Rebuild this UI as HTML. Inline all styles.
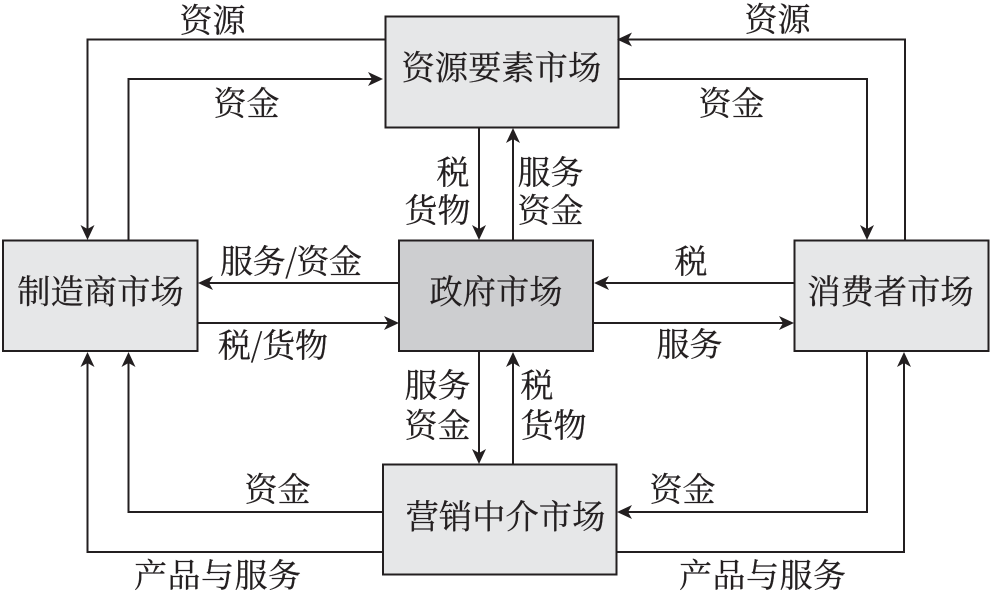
<!DOCTYPE html>
<html><head><meta charset="utf-8"><style>
html,body{margin:0;padding:0;background:#fff}
svg{display:block}
text{font-family:"Noto Serif CJK SC","Liberation Serif",serif;fill:#231f20;font-size:33px;stroke:#231f20;stroke-width:.25}
.b{font-size:33.3px}
.l{fill:none;stroke:#231f20;stroke-width:2}
.h{fill:#231f20}
.x{stroke:#231f20;stroke-width:2}
</style></head><body>
<svg width="990" height="592" viewBox="0 0 990 592" xmlns="http://www.w3.org/2000/svg">
<defs>
<path id="a" class="h" d="M0 0L-15-7L-11 0L-15 7Z"/>
</defs>
<!-- boxes -->
<rect class="x" x="385.5" y="16.5" width="233" height="111" fill="#e6e7e8"/>
<rect class="x" x="3" y="240.5" width="194.500" height="110.500" fill="#e6e7e8"/>
<rect class="x" x="399" y="240.500" width="194" height="110.500" fill="#cdced0"/>
<rect class="x" x="794.500" y="240.500" width="194" height="110.500" fill="#e6e7e8"/>
<rect class="x" x="383" y="464.500" width="233.500" height="110" fill="#e6e7e8"/>
<!-- lines -->
<path class="l" d="M385 39.500H87.500V236"/>
<path class="l" d="M128.500 240V79H375"/>
<path class="l" d="M905 240V39.500H625"/>
<path class="l" d="M619 79H867V236"/>
<path class="l" d="M479 127V236"/>
<path class="l" d="M513 240V132"/>
<path class="l" d="M399 283H205"/>
<path class="l" d="M197 323H391"/>
<path class="l" d="M794 283H601"/>
<path class="l" d="M593 323H786"/>
<path class="l" d="M479 351V460"/>
<path class="l" d="M513 464V356"/>
<path class="l" d="M383 512H128.500V356"/>
<path class="l" d="M383 552H87.500V356"/>
<path class="l" d="M867 351V512H625"/>
<path class="l" d="M616 552H904V356"/>
<!-- arrowheads -->
<use href="#a" transform="translate(87.500 240) rotate(90)"/>
<use href="#a" transform="translate(383 79)"/>
<use href="#a" transform="translate(617 39.500) rotate(180)"/>
<use href="#a" transform="translate(867 240) rotate(90)"/>
<use href="#a" transform="translate(479 240) rotate(90)"/>
<use href="#a" transform="translate(513 128) rotate(-90)"/>
<use href="#a" transform="translate(198 283) rotate(180)"/>
<use href="#a" transform="translate(399 323)"/>
<use href="#a" transform="translate(594 283) rotate(180)"/>
<use href="#a" transform="translate(794 323)"/>
<use href="#a" transform="translate(479 464) rotate(90)"/>
<use href="#a" transform="translate(513 352) rotate(-90)"/>
<use href="#a" transform="translate(128.500 352) rotate(-90)"/>
<use href="#a" transform="translate(87.500 352) rotate(-90)"/>
<use href="#a" transform="translate(617 512) rotate(180)"/>
<use href="#a" transform="translate(904 352) rotate(-90)"/>
<!-- box labels -->
<text class="b" x="401.500" y="79.500">资源要素市场</text>
<text class="b" x="17.200" y="303.500">制造商市场</text>
<text class="b" x="429.400" y="303.500">政府市场</text>
<text class="b" x="807.200" y="303.500">消费者市场</text>
<text class="b" x="405.600" y="528.500">营销中介市场</text>
<!-- labels -->
<text x="179.500" y="32">资源</text>
<text x="744.500" y="31">资源</text>
<text x="213.500" y="115">资金</text>
<text x="698.500" y="115">资金</text>
<text x="436.500" y="184">税</text>
<text x="404.500" y="222">货物</text>
<text x="517.500" y="184">服务</text>
<text x="517.500" y="222">资金</text>
<text x="220" y="273" textLength="142" lengthAdjust="spacing">服务/资金</text>
<text x="218" y="357" textLength="110" lengthAdjust="spacing">税/货物</text>
<text x="674.500" y="273">税</text>
<text x="656.500" y="356">服务</text>
<text x="404.500" y="397">服务</text>
<text x="404.500" y="437">资金</text>
<text x="520.500" y="397">税</text>
<text x="520.500" y="437">货物</text>
<text x="244.500" y="501">资金</text>
<text x="649.500" y="501">资金</text>
<text x="134" y="587" textLength="167" lengthAdjust="spacing">产品与服务</text>
<text x="679" y="587" textLength="167" lengthAdjust="spacing">产品与服务</text>
</svg>
</body></html>
